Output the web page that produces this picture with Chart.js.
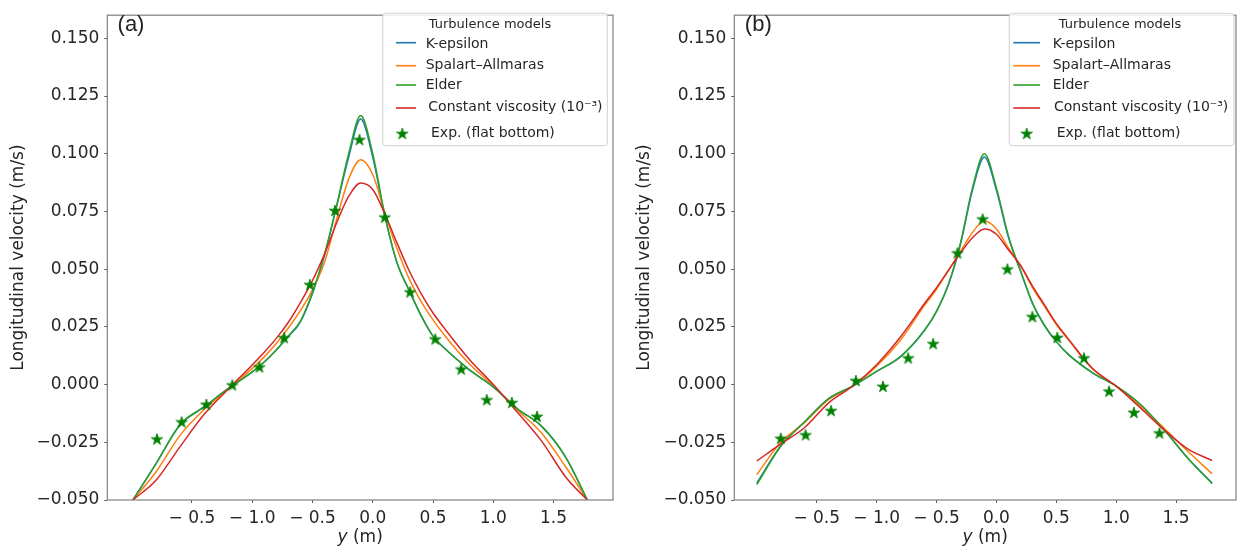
<!DOCTYPE html>
<html><head><meta charset="utf-8">
<script src="https://cdn.jsdelivr.net/npm/chart.js@4.4.1/dist/chart.umd.min.js"></script>
<style>
html,body{margin:0;padding:0;background:#fff;}
#wrap{position:relative;width:1243px;height:548px;overflow:hidden;background:#fff;}
#ca{position:absolute;left:0;top:0;}
#cb{position:absolute;left:620px;top:0;}
</style></head>
<body><div id="wrap"><canvas id="ca" width="620" height="548"></canvas><canvas id="cb" width="623" height="548"></canvas></div>
<script>
// ---------- data ----------
const yTickVals = [-0.05,-0.025,0,0.025,0.05,0.075,0.1,0.125,0.15];
const yTickLabels = ["\u22120.050","\u22120.025","0.000","0.025","0.050","0.075","0.100","0.125","0.150"];
const xTickVals = [-1.5,-1.0,-0.5,0.0,0.5,1.0,1.5];
const xTickLabels = ["\u2212 0.5","\u2212 1.0","\u2212 0.5","0.0","0.5","1.0","1.5"];
const seriesNames = ["K-epsilon","Spalart\u2013Allmaras","Elder","Constant viscosity (10\u207B\u00B3)","Exp. (flat bottom)"];
const legendTitle = "Turbulence models";

// panel (a)
const xCurveA    = [-1.99,-1.8,-1.6,-1.4,-1.2,-1.0,-0.9,-0.8,-0.7,-0.6,-0.5,-0.4,-0.3,-0.2,-0.1,0.0,0.1,0.2,0.3,0.4,0.5,0.6,0.8,1.0,1.2,1.4,1.6,1.78];
const kEpsA      = [-0.050,-0.0345,-0.0175,-0.0097,-0.0018,0.0055,0.0098,0.0150,0.0208,0.0272,0.0395,0.0560,0.0770,0.0985,0.1150,0.0985,0.0730,0.0530,0.0410,0.0300,0.0210,0.0155,0.0065,-0.0010,-0.0105,-0.0180,-0.0314,-0.050];
const saA        = [-0.050,-0.0380,-0.0221,-0.0109,-0.0020,0.0070,0.0120,0.0178,0.0245,0.0320,0.0410,0.0530,0.0715,0.0890,0.0974,0.0910,0.0745,0.0590,0.0460,0.0360,0.0280,0.0210,0.0090,-0.0005,-0.0110,-0.0210,-0.0356,-0.050];
const elderA     = [-0.050,-0.0345,-0.0175,-0.0097,-0.0018,0.0055,0.0098,0.0150,0.0210,0.0275,0.0400,0.0565,0.0775,0.1000,0.1165,0.1000,0.0735,0.0530,0.0410,0.0300,0.0210,0.0155,0.0065,-0.0010,-0.0105,-0.0180,-0.0314,-0.050];
const constViscA = [-0.050,-0.0416,-0.0270,-0.0130,-0.0020,0.0085,0.0140,0.0200,0.0270,0.0355,0.0450,0.0565,0.0700,0.0815,0.0873,0.0845,0.0740,0.0615,0.0495,0.0395,0.0310,0.0240,0.0110,0.0000,-0.0120,-0.0244,-0.0400,-0.050];
const xExpA = [-1.79,-1.585,-1.38,-1.165,-0.94,-0.735,-0.522,-0.313,-0.11,0.10,0.31,0.518,0.734,0.946,1.154,1.363];
const expA  = [-0.0238,-0.0164,-0.0088,-0.0004,0.0074,0.0201,0.0431,0.0752,0.1059,0.0723,0.0399,0.0195,0.0065,-0.0068,-0.0080,-0.0140];

// panel (b)
const xCurveB    = [-2.0,-1.8,-1.6,-1.4,-1.2,-1.0,-0.8,-0.6,-0.5,-0.4,-0.3,-0.2,-0.1,0.0,0.1,0.2,0.3,0.4,0.5,0.6,0.8,1.0,1.2,1.4,1.6,1.8];
const kEpsB      = [-0.0426,-0.0265,-0.0161,-0.0061,-0.0007,0.0057,0.0121,0.0235,0.0317,0.0433,0.0608,0.0842,0.0986,0.0842,0.0638,0.0493,0.0354,0.0257,0.0186,0.0131,0.0052,-0.0007,-0.0085,-0.0196,-0.0320,-0.0426];
const saB        = [-0.0390,-0.0250,-0.0164,-0.0064,-0.0007,0.0079,0.0193,0.0343,0.0413,0.0495,0.0577,0.0659,0.0708,0.0674,0.0592,0.0517,0.0421,0.0340,0.0260,0.0195,0.0070,-0.0007,-0.0092,-0.0189,-0.0290,-0.0386];
const elderB     = [-0.0433,-0.0267,-0.0161,-0.0061,-0.0007,0.0057,0.0121,0.0235,0.0317,0.0436,0.0614,0.0852,0.1000,0.0852,0.0644,0.0495,0.0354,0.0257,0.0186,0.0131,0.0052,-0.0007,-0.0085,-0.0196,-0.0320,-0.0429];
const constViscB = [-0.0331,-0.0257,-0.0186,-0.0079,-0.0007,0.0086,0.0207,0.0351,0.0420,0.0495,0.0570,0.0636,0.0674,0.0651,0.0584,0.0517,0.0428,0.0346,0.0265,0.0198,0.0071,-0.0007,-0.0100,-0.0196,-0.0280,-0.0329];
const xExpB = [-1.80,-1.593,-1.38,-1.173,-0.947,-0.736,-0.528,-0.325,-0.115,0.092,0.30,0.508,0.731,0.94,1.148,1.361];
const expB  = [-0.0235,-0.0220,-0.0115,0.0015,-0.0010,0.0113,0.0175,0.0568,0.0715,0.0498,0.0292,0.0202,0.0113,-0.0031,-0.0123,-0.0212];

// ---------- styling ----------
const colors = ["#1f77b4","#ff7f0e","#2ca02c","#d62728","#008000"];
const textColor = "#262626";
const FONT = "'DejaVu Sans', sans-serif";

function starCanvas(r){
  const s = Math.ceil(r*2+2);
  const c = document.createElement('canvas'); c.width = s; c.height = s;
  const g = c.getContext('2d');
  const cx = s/2, cy = s/2, ri = r*0.382;
  g.beginPath();
  for (let i=0;i<10;i++){
    const rad = (i%2===0)? r : ri;
    const a = -Math.PI/2 + i*Math.PI/5;
    const px = cx + rad*Math.cos(a), py = cy + rad*Math.sin(a);
    if (i===0) g.moveTo(px,py); else g.lineTo(px,py);
  }
  g.closePath();
  g.fillStyle = colors[4]; g.fill();
  g.lineWidth = 0.8; g.strokeStyle = colors[4]; g.stroke();
  return c;
}
const starImg = starCanvas(6);

function pts(xs, ys){ return xs.map((x,i)=>({x:x, y:ys[i]})); }

function decoPlugin(L){
  return {
    id: 'deco',
    afterDraw(chart){
      const ctx = chart.ctx, ca = chart.chartArea;
      ctx.save();
      ctx.strokeStyle = "#7f7f7f"; ctx.lineWidth = 1.2;
      ctx.strokeRect(ca.left, ca.top, ca.right-ca.left, ca.bottom-ca.top);
      ctx.fillStyle = "#222"; ctx.font = "22px 'Liberation Sans', sans-serif";
      ctx.textAlign = "center"; ctx.textBaseline = "middle";
      ctx.fillText(L.panel, L.panelX, L.panelY);
      ctx.fillStyle = textColor;
      ctx.textBaseline = "middle"; ctx.textAlign = "left";
      ctx.font = "italic 17px " + FONT;
      const w1 = ctx.measureText("y").width;
      ctx.font = "17px " + FONT;
      const w2 = ctx.measureText(" (m)").width;
      const cx = (ca.left+ca.right)/2, x0 = cx - (w1+w2)/2;
      ctx.font = "italic 17px " + FONT; ctx.fillText("y", x0, L.xTitleY);
      ctx.font = "17px " + FONT; ctx.fillText(" (m)", x0+w1, L.xTitleY);
      const b = L.box, rr = 3;
      ctx.beginPath();
      ctx.moveTo(b.x0+rr, b.y0); ctx.lineTo(b.x1-rr, b.y0); ctx.quadraticCurveTo(b.x1,b.y0,b.x1,b.y0+rr);
      ctx.lineTo(b.x1, b.y1-rr); ctx.quadraticCurveTo(b.x1,b.y1,b.x1-rr,b.y1);
      ctx.lineTo(b.x0+rr, b.y1); ctx.quadraticCurveTo(b.x0,b.y1,b.x0,b.y1-rr);
      ctx.lineTo(b.x0, b.y0+rr); ctx.quadraticCurveTo(b.x0,b.y0,b.x0+rr,b.y0);
      ctx.closePath();
      ctx.fillStyle = "rgba(255,255,255,0.85)"; ctx.fill();
      ctx.strokeStyle = "#d0d0d0"; ctx.lineWidth = 1; ctx.stroke();
      ctx.fillStyle = textColor; ctx.font = "13px " + FONT;
      ctx.textAlign = "center"; ctx.textBaseline = "middle";
      ctx.fillText(legendTitle, L.titleX, L.titleY);
      ctx.textAlign = "left";
      for (let i=0;i<5;i++){
        const e = L.entries[i];
        if (i<4){
          ctx.strokeStyle = colors[i]; ctx.lineWidth = 1.6;
          ctx.beginPath(); ctx.moveTo(L.hx0, e.ly); ctx.lineTo(L.hx1, e.ly); ctx.stroke();
        } else {
          ctx.drawImage(starImg, L.starX - starImg.width/2, e.ly - starImg.height/2);
        }
        ctx.fillStyle = textColor; ctx.font = "14px " + FONT;
        ctx.fillText(seriesNames[i], e.tx, e.ty);
      }
      ctx.restore();
    }
  };
}

function makeChart(id, xs, k, sa, el, cv, xe, ye, xmin, xmax, yAxisW, padRight, yTitlePad, L){
  const lineDs = (lab, data, col, ord) => ({
    label: lab, data: pts(xs, data), borderColor: col, backgroundColor: col,
    borderWidth: 1.5, pointRadius: 0, pointHoverRadius: 0, fill: false,
    cubicInterpolationMode: 'monotone', order: ord
  });
  return new Chart(document.getElementById(id), {
    type: 'line',
    data: { datasets: [
      lineDs(seriesNames[0], k, colors[0], 5),
      lineDs(seriesNames[1], sa, colors[1], 4),
      lineDs(seriesNames[2], el, colors[2], 3),
      lineDs(seriesNames[3], cv, colors[3], 2),
      { label: seriesNames[4], data: pts(xe, ye), showLine: false, pointStyle: starImg,
        pointRadius: 6, borderColor: colors[4], backgroundColor: colors[4], order: 1 }
    ]},
    options: {
      responsive: false, animation: false, devicePixelRatio: 1,
      layout: { padding: { top: 5.7, right: padRight, left: 0, bottom: 0 } },
      plugins: { legend: { display: false }, tooltip: { enabled: false } },
      events: [],
      scales: {
        x: {
          type: 'linear', min: xmin, max: xmax,
          afterBuildTicks: s => { s.ticks = xTickVals.map(v => ({value: v})); },
          afterFit: s => { s.height = 48; },
          border: { display: false },
          grid: { drawOnChartArea: false, drawTicks: true, tickLength: 3, tickColor: "#555", tickWidth: 1 },
          ticks: { autoSkip: false, maxRotation: 0, minRotation: 0, padding: 5, color: textColor,
                   font: { family: FONT, size: 17 },
                   callback: v => { const i = xTickVals.findIndex(t => Math.abs(t - v) < 1e-9); return i >= 0 ? xTickLabels[i] : ''; } },
          title: { display: false }
        },
        y: {
          type: 'linear', min: -0.05, max: 0.16,
          afterBuildTicks: s => { s.ticks = yTickVals.map(v => ({value: v})); },
          afterFit: s => { s.width = yAxisW; },
          border: { display: false },
          grid: { drawOnChartArea: false, drawTicks: true, tickLength: 3, tickColor: "#555", tickWidth: 1 },
          ticks: { autoSkip: false, padding: 5, color: textColor, font: { family: FONT, size: 17 },
                   callback: v => { const i = yTickVals.findIndex(t => Math.abs(t - v) < 1e-9); return i >= 0 ? yTickLabels[i] : ''; } },
          title: { display: true, text: 'Longitudinal velocity (m/s)', color: textColor,
                   font: { family: FONT, size: 17 }, padding: { top: yTitlePad, bottom: 0 } }
        }
      }
    },
    plugins: [decoPlugin(L)]
  });
}

const legA = {
  panel: "(a)", panelX: 131, panelY: 25, xTitleY: 538,
  box: {x0: 382.7, y0: 13.3, x1: 607.3, y1: 145.7},
  titleX: 490, titleY: 24.5, hx0: 396, hx1: 416, starX: 402.3,
  entries: [
    {ly: 42.7, tx: 425.7, ty: 44.5},
    {ly: 65.7, tx: 425.7, ty: 65.8},
    {ly: 85.0, tx: 425.7, ty: 85.0},
    {ly: 108.0, tx: 428.3, ty: 107.5},
    {ly: 134.0, tx: 431.0, ty: 133.3}
  ]
};
const legB = {
  panel: "(b)", panelX: 138.3, panelY: 25, xTitleY: 538,
  box: {x0: 389.3, y0: 13.3, x1: 614.0, y1: 145.7},
  titleX: 500, titleY: 24.5, hx0: 393.3, hx1: 420, starX: 406.7,
  entries: [
    {ly: 42.7, tx: 432.7, ty: 44.5},
    {ly: 65.7, tx: 432.7, ty: 65.8},
    {ly: 85.0, tx: 432.7, ty: 85.0},
    {ly: 108.0, tx: 434.0, ty: 107.5},
    {ly: 134.0, tx: 436.7, ty: 133.3}
  ]
};

makeChart('ca', xCurveA, kEpsA, saA, elderA, constViscA, xExpA, expA, -2.202, 1.993, 107.3, 6, 8.8, legA);
makeChart('cb', xCurveB, kEpsB, saB, elderB, constViscB, xExpB, expB, -2.188, 2.0, 114.3, 1.3, 14.8, legB);
</script>
</body></html>
